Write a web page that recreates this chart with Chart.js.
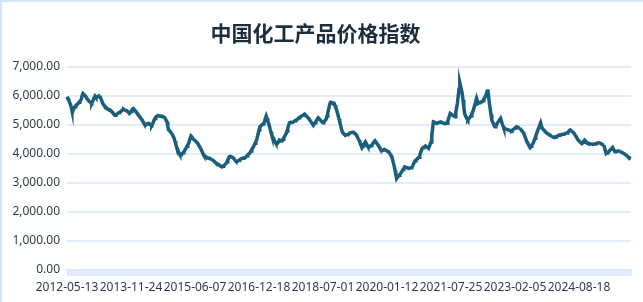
<!DOCTYPE html>
<html>
<head>
<meta charset="utf-8">
<script src="https://cdn.jsdelivr.net/npm/chart.js@4/dist/chart.umd.min.js"></script>
<style>
  html, body { margin: 0; padding: 0; background: #fff; }
  #wrap { position: relative; width: 643px; height: 302px; }
  #frame { position: absolute; left: 0; top: 0; right: 0; bottom: 0;
           border-left: 2px solid #d3e5f8; border-top: 2px solid #d3e5f8; pointer-events: none; }
</style>
</head>
<body>
<div id="wrap">
  <canvas id="myChart" width="643" height="302"></canvas>
  <div id="frame"></div>
</div>
<script>
// weekly index values, first week 2012-05-13
const startDate = '2012-05-13';
const tickLabels = ['2012-05-13', '2013-11-24', '2015-06-07', '2016-12-18', '2018-07-01',
  '2020-01-12', '2021-07-25', '2023-02-05', '2024-08-18'];
const yTicks = [0, 1000, 2000, 3000, 4000, 5000, 6000, 7000];
const indexValues = [
  5966,5910,5880,5790,5720,5640,5510,5450,5530,5580,
  5620,5650,5690,5700,5740,5780,5800,5830,5900,6010,
  6080,6060,6020,5990,5950,5900,5870,5830,5800,5780,
  5750,5740,5800,5870,5940,5990,5950,5930,5960,5980,
  6000,5990,5930,5860,5790,5720,5680,5650,5620,5590,
  5560,5540,5530,5520,5510,5480,5450,5420,5380,5350,
  5330,5340,5360,5380,5400,5420,5430,5450,5480,5500,
  5520,5530,5510,5500,5490,5480,5450,5420,5390,5420,
  5460,5500,5540,5560,5530,5500,5460,5420,5390,5350,
  5310,5270,5230,5190,5160,5110,5060,5010,4980,5000,
  5030,5040,5050,5030,5010,4990,4980,5030,5100,5170,
  5220,5260,5290,5310,5320,5310,5300,5300,5290,5290,
  5280,5280,5250,5200,5150,5100,4950,4820,4800,4770,
  4730,4700,4650,4590,4530,4430,4330,4240,4170,4100,
  4030,3980,3950,3960,4000,4040,4070,4110,4160,4210,
  4260,4310,4360,4450,4540,4610,4580,4540,4500,4480,
  4460,4430,4410,4370,4330,4280,4230,4190,4130,4070,
  4000,3950,3930,3910,3890,3870,3860,3860,3850,3830,
  3820,3810,3790,3760,3740,3720,3690,3670,3650,3640,
  3620,3600,3580,3560,3550,3570,3590,3620,3650,3670,
  3730,3790,3850,3900,3910,3900,3890,3880,3850,3820,
  3780,3750,3720,3740,3760,3780,3800,3820,3840,3840,
  3850,3860,3860,3870,3900,3930,3960,3990,4010,4050,
  4100,4150,4190,4240,4300,4360,4420,4470,4590,4700,
  4820,4930,4950,4980,5000,5030,5050,5130,5220,5300,
  5220,5130,5050,4950,4850,4740,4640,4590,4530,4480,
  4420,4370,4330,4360,4400,4440,4470,4460,4460,4450,
  4500,4550,4600,4650,4700,4790,4880,4980,5070,5080,
  5080,5090,5090,5100,5120,5140,5160,5170,5190,5210,
  5240,5260,5280,5300,5310,5330,5350,5370,5340,5310,
  5280,5250,5220,5180,5140,5100,5060,5020,4990,5030,
  5070,5110,5160,5200,5240,5210,5180,5150,5120,5090,
  5070,5100,5130,5160,5190,5300,5420,5540,5650,5760,
  5780,5760,5750,5750,5740,5670,5590,5510,5410,5310,
  5200,5100,4980,4870,4760,4720,4690,4660,4640,4650,
  4660,4670,4680,4700,4720,4730,4730,4740,4740,4720,
  4700,4670,4640,4580,4520,4470,4400,4340,4280,4220,
  4270,4320,4370,4410,4360,4310,4260,4220,4240,4260,
  4280,4300,4340,4380,4420,4450,4410,4370,4330,4300,
  4250,4200,4150,4100,4110,4130,4140,4150,4130,4120,
  4100,4080,4070,4030,3990,3940,3900,3790,3680,3580,
  3430,3290,3150,3190,3220,3260,3290,3320,3370,3410,
  3460,3500,3550,3540,3530,3520,3510,3500,3510,3510,
  3520,3530,3580,3640,3700,3750,3780,3800,3830,3860,
  3880,3960,4040,4120,4190,4210,4230,4250,4270,4250,
  4230,4210,4190,4260,4340,4410,4640,4870,5100,5090,
  5070,5060,5050,5060,5070,5080,5090,5100,5090,5080,
  5060,5050,5040,5050,5060,5050,5130,5220,5310,5390,
  5370,5350,5330,5310,5300,5280,5430,5590,5740,5980,
  6220,6450,6330,6200,6080,5850,5620,5390,5320,5260,
  5200,5160,5190,5230,5270,5300,5370,5440,5510,5610,
  5710,5810,5910,5820,5740,5760,5770,5780,5790,5790,
  5830,5880,5930,5970,6050,6140,6220,5980,5740,5540,
  5350,5160,5100,5040,4980,4930,4970,5010,5060,5100,
  5140,5180,5220,5130,5040,4960,4880,4870,4860,4850,
  4840,4830,4820,4810,4800,4800,4790,4810,4840,4860,
  4890,4910,4930,4920,4910,4890,4880,4850,4810,4780,
  4740,4700,4630,4550,4480,4410,4360,4310,4260,4220,
  4260,4300,4340,4380,4460,4540,4620,4700,4770,4850,
  4920,5000,5070,4970,4880,4850,4820,4790,4760,4730,
  4710,4690,4680,4660,4640,4620,4610,4590,4580,4560,
  4570,4590,4600,4610,4630,4640,4650,4650,4660,4670,
  4670,4680,4690,4700,4710,4720,4740,4770,4800,4820,
  4800,4780,4750,4730,4700,4650,4610,4560,4520,4470,
  4450,4420,4400,4380,4360,4400,4430,4470,4440,4410,
  4380,4360,4360,4350,4350,4340,4340,4330,4330,4340,
  4340,4350,4360,4370,4370,4380,4370,4360,4340,4330,
  4310,4300,4200,4100,4010,4030,4050,4070,4100,4130,
  4160,4190,4220,4170,4120,4070,4080,4090,4090,4100,
  4100,4090,4070,4060,4040,4030,4010,3990,3970,3950,
  3930,3900,3880,3870,3850,3840
];

// one label per week
const weekLabels = [];
const d0 = new Date(startDate + 'T00:00:00Z');
for (let i = 0; i < indexValues.length; i++) {
  const d = new Date(d0.getTime() + i * 7 * 86400000);
  weekLabels.push(d.toISOString().slice(0, 10));
}

const tickFont = { family: 'Noto Sans', size: 12 };
const tickColor = '#2f3b48';

const ctx = document.getElementById('myChart').getContext('2d');
new Chart(ctx, {
  type: 'line',
  data: {
    labels: weekLabels,
    datasets: [{
      label: '中国化工产品价格指数',
      data: indexValues,
      borderColor: '#1a5e7e',
      borderWidth: 3.5,
      pointRadius: 0,
      tension: 0,
      fill: false
    }]
  },
  options: {
    responsive: false,
    animation: false,
    layout: { padding: { left: 0, right: 12, top: 0, bottom: 0 } },
    plugins: {
      legend: { display: false },
      tooltip: { enabled: false },
      title: {
        display: true,
        text: '中国化工产品价格指数',
        color: '#1c2d3f',
        font: { family: 'Noto Sans CJK SC', size: 21, weight: 'bold' },
        padding: { top: 20, bottom: 21.5 }
      }
    },
    scales: {
      x: {
        grid: {
          drawOnChartArea: false,
          drawTicks: true,
          tickLength: 6,
          color: 'rgba(205,224,246,0.55)',
          lineWidth: 1
        },
        border: { display: true, color: '#dde9f8', width: 2 },
        ticks: {
          autoSkip: false,
          maxRotation: 0,
          minRotation: 0,
          padding: 4,
          color: tickColor,
          font: tickFont,
          callback: function (value, index) {
            const lab = weekLabels[index];
            return tickLabels.includes(lab) ? lab : '';
          }
        },
        afterFit: function (scale) { scale.height = 32; }
      },
      y: {
        min: yTicks[0],
        max: yTicks[yTicks.length - 1],
        afterBuildTicks: function (scale) {
          scale.ticks = yTicks.map(v => ({ value: v }));
        },
        grid: { color: '#e2edf9', lineWidth: 2, drawTicks: false },
        border: { display: false },
        ticks: {
          padding: 7,
          color: tickColor,
          font: tickFont,
          callback: v => v.toLocaleString('en-US', { minimumFractionDigits: 2, maximumFractionDigits: 2 })
        },
        afterFit: function (scale) { scale.width = 67; }
      }
    }
  }
});
</script>
</body>
</html>
